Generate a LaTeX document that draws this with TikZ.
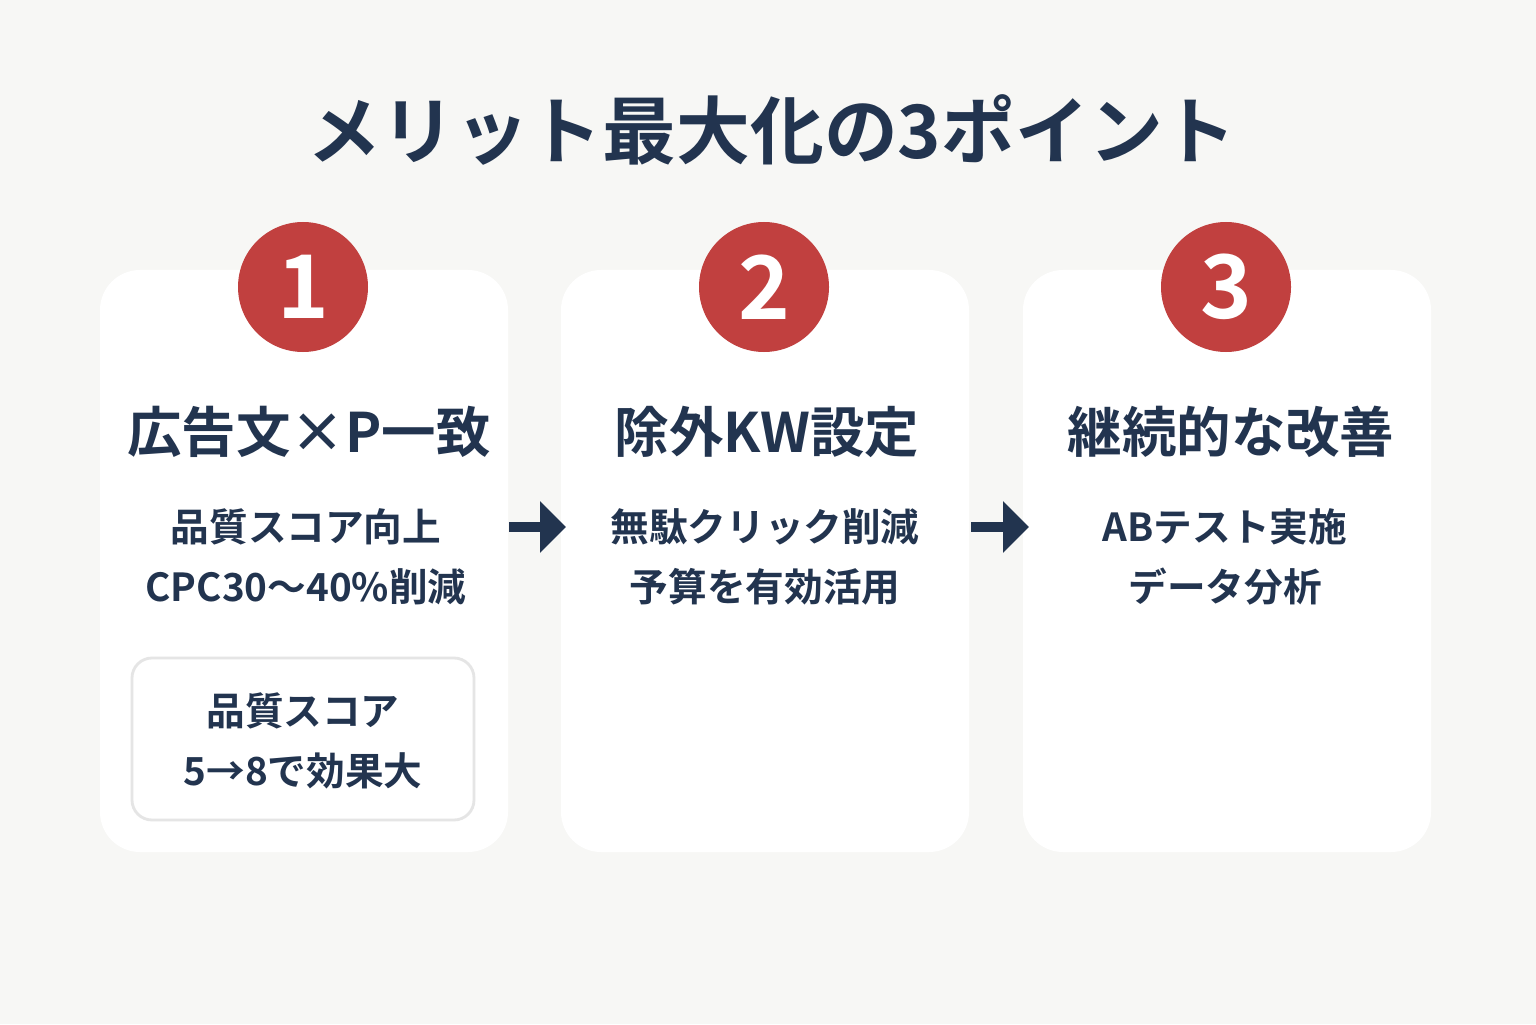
\documentclass[tikz,border=0pt]{standalone}
\usepackage{fontspec}
\setmainfont{Noto Sans CJK JP}[BoldFont={Noto Sans CJK JP Bold}]
\usetikzlibrary{arrows.meta}
\definecolor{navy}{HTML}{22344F}
\definecolor{badge}{HTML}{C1403F}
\definecolor{paper}{HTML}{F7F7F5}
\tikzset{
  card/.style={fill=white, rounded corners=0.4cm, minimum width=4.08cm, minimum height=5.82cm},
  num/.style={circle, fill=badge, minimum size=1.3cm, text=white, font=\bfseries\fontsize{25}{25}\selectfont},
  head/.style={text=navy, font=\bfseries\fontsize{15.5}{16}\selectfont},
  body/.style={text=navy, align=center, font=\bfseries\fontsize{11}{17.2}\selectfont},
  flow/.style={draw=navy, line width=0.1cm, -{Triangle[length=0.26cm, width=0.5cm]}}
}
\begin{document}
\begin{tikzpicture}
\fill[paper] (0,0) rectangle (15.36,10.24);
\useasboundingbox (0,0) rectangle (15.36,10.24);
% title
\node[text=navy, font=\bfseries\fontsize{21}{21}\selectfont] (title) at (7.72,8.94) {メリット最大化の3ポイント};
% the three cards
\foreach \i/\x in {1/3.04, 2/7.65, 3/12.27}
{
  \node[card] (card\i) at (\x,4.63) {};
  \node[num] (num\i) at (\x-0.01,7.37) {\i};
}
% headings
\node[head] (head1) at (3.09,5.92) {広告文×P一致};
\node[head] (head2) at (7.67,5.92) {除外KW設定};
\node[head] (head3) at (12.31,5.92) {継続的な改善};
% texts
\node[body] (text1) at (3.06,4.67) {品質スコア向上\\CPC30～40\%削減};
\node[body] (text2) at (7.65,4.67) {無駄クリック削減\\予算を有効活用};
\node[body] (text3) at (12.25,4.67) {ABテスト実施\\データ分析};
% inner box
\node[draw=black!10, line width=0.8pt, fill=white, rounded corners=0.2cm, minimum width=3.42cm, minimum height=1.62cm] (note) at (3.03,2.85) {};
\node[body] (notetext) at (3.03,2.83) {品質スコア\\5→8で効果大};
% arrows
\coordinate (a1) at (5.09,4.97);
\coordinate (b1) at (5.66,4.97);
\coordinate (a2) at (9.71,4.97);
\coordinate (b2) at (10.29,4.97);
\draw[flow] (a1) -- (b1);
\draw[flow] (a2) -- (b2);
\end{tikzpicture}
\end{document}
